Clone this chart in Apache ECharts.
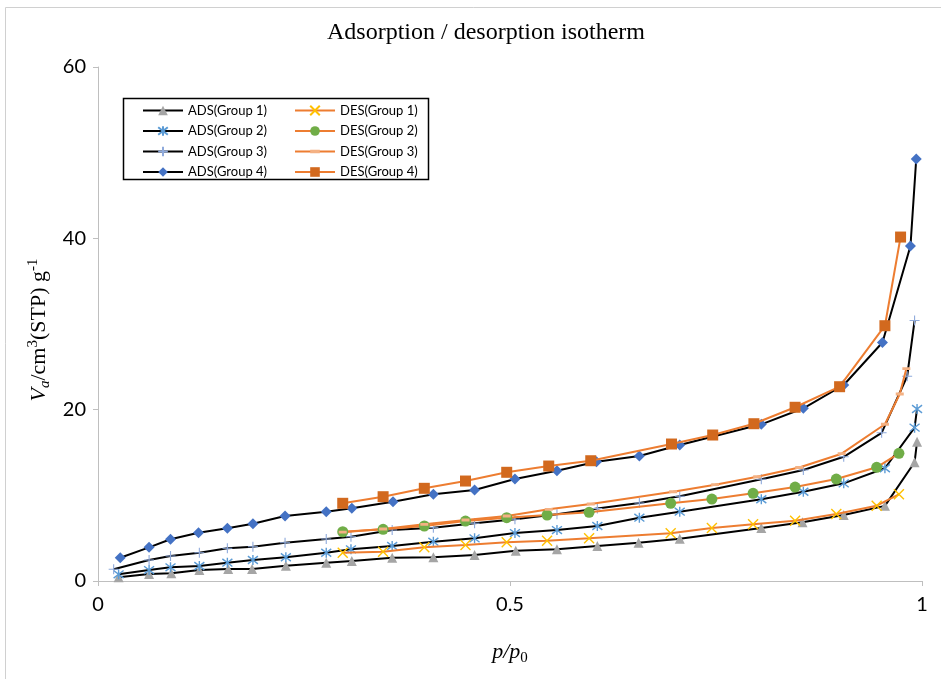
<!DOCTYPE html>
<html><head><meta charset="utf-8">
<script src="https://cdn.jsdelivr.net/npm/echarts@6/dist/echarts.min.js"></script>
<style>html,body{margin:0;padding:0;background:#fff}#c{width:941px;height:679px}</style>
</head><body><div id="c"></div>
<script>
const titleText = 'Adsorption / desorption isotherm';
const xTicks = [0, 0.5, 1];
const yTicks = [0, 20, 40, 60];

const ads1P = [0.025,0.062,0.089,0.123,0.158,0.187,0.228,0.277,0.308,0.357,0.407,0.457,0.507,0.557,0.606,0.656,0.706,0.805,0.855,0.905,0.955,0.991,0.994];
const ads1V = [0.43,0.82,0.9,1.28,1.4,1.4,1.79,2.14,2.33,2.72,2.77,3.03,3.54,3.7,4.09,4.47,4.94,6.2,6.85,7.7,8.77,13.86,16.26];
const ads2P = [0.025,0.062,0.088,0.123,0.157,0.188,0.228,0.277,0.307,0.357,0.407,0.457,0.506,0.557,0.606,0.657,0.706,0.805,0.856,0.905,0.955,0.991,0.994];
const ads2V = [0.78,1.28,1.6,1.75,2.14,2.45,2.77,3.3,3.7,4.09,4.59,4.98,5.6,5.95,6.42,7.39,8.09,9.54,10.42,11.4,13.16,17.9,20.08];
const ads3P = [0.019,0.062,0.088,0.123,0.157,0.188,0.227,0.277,0.307,0.357,0.407,0.457,0.506,0.557,0.606,0.657,0.706,0.805,0.856,0.905,0.951,0.982,0.991];
const ads3V = [1.37,2.45,2.92,3.3,3.82,4.0,4.47,4.9,5.17,5.95,6.22,6.74,7.2,7.8,8.46,9.1,9.9,11.87,12.96,14.5,17.3,23.9,30.4];
const ads4P = [0.027,0.062,0.088,0.122,0.157,0.188,0.227,0.277,0.308,0.358,0.407,0.457,0.506,0.557,0.605,0.657,0.706,0.805,0.856,0.905,0.952,0.986,0.993];
const ads4V = [2.72,3.93,4.87,5.64,6.15,6.69,7.59,8.09,8.49,9.26,10.12,10.62,11.91,12.88,13.93,14.59,15.87,18.29,20.16,22.88,27.84,39.1,49.26];

const des1P = [0.297,0.346,0.396,0.446,0.496,0.545,0.596,0.695,0.745,0.795,0.846,0.896,0.945,0.972];
const des1V = [3.3,3.42,3.93,4.2,4.52,4.7,4.98,5.57,6.18,6.62,7.04,7.82,8.79,10.12];
const des2P = [0.297,0.346,0.396,0.446,0.496,0.545,0.596,0.695,0.745,0.795,0.846,0.896,0.945,0.972];
const des2V = [5.75,6.03,6.42,7.0,7.39,7.7,8.02,9.07,9.57,10.24,10.97,11.9,13.27,14.9];
const des3P = [0.297,0.346,0.396,0.446,0.496,0.547,0.598,0.698,0.749,0.8,0.851,0.9025,0.955,0.973,0.981];
const des3V = [5.7,6.07,6.62,7.12,7.59,8.37,8.99,10.42,11.24,12.17,13.25,14.86,18.3,21.83,24.78];
const des4P = [0.297,0.346,0.396,0.446,0.496,0.547,0.598,0.696,0.746,0.796,0.846,0.900,0.955,0.974];
const des4V = [9.07,9.84,10.82,11.67,12.69,13.42,14.04,15.99,17.04,18.36,20.28,22.68,29.8,40.15];

const names = ['ADS(Group 1)','ADS(Group 2)','ADS(Group 3)','ADS(Group 4)','DES(Group 1)','DES(Group 2)','DES(Group 3)','DES(Group 4)'];

function pts(p, v){ return p.map((x,i)=>[x, v[i]]); }

const ASTER = 'path://M0,0L10,10M10,0L0,10M5,-1.5L5,11.5';
const PLUS = 'path://M5,0L5,10M0,5L10,5';
const CROSS = 'path://M0,0L10,10M10,0L0,10';
const DASH = 'path://M0,0L0.01,0M0,2.6L8,2.6L8,5.4L0,5.4ZM0,8L0.01,8';

function mk(name, data, symbol, size, color, stroke, lineColor, z){
  return {
    name, type:'line', data, symbol, symbolSize:size, z,
    lineStyle:{color:lineColor, width:2},
    itemStyle: stroke ? {color:color, borderColor:color, borderWidth:stroke} : {color:color, borderWidth:0},
  };
}

const series = [
  mk(names[0], pts(ads1P, ads1V), 'triangle', 10, '#A5A5A5', 0, '#000', 2),
  mk(names[1], pts(ads2P, ads2V), ASTER, 10, '#5B9BD5', 1.4, '#000', 2),
  mk(names[2], pts(ads3P, ads3V), PLUS, 10, '#8FAADC', 1.1, '#000', 2),
  mk(names[3], pts(ads4P, ads4V), 'diamond', 11, '#4472C4', 0, '#000', 2),
  mk(names[4], pts(des1P, des1V), CROSS, 10, '#FFC000', 1.4, '#ED7D31', 3),
  mk(names[5], pts(des2P, des2V), 'circle', 11, '#70AD47', 0, '#ED7D31', 3),
  mk(names[6], pts(des3P, des3V), DASH, 8, '#F4B183', 0, '#ED7D31', 3),
  mk(names[7], pts(des4P, des4V), 'rect', 11, '#D2691E', 0, '#ED7D31', 3),
];

const legendText = {fontFamily:'Lato', fontSize:13, color:'#000'};
const chart = echarts.init(document.getElementById('c'), null, {renderer:'canvas'});
chart.setOption({
  animation:false,
  backgroundColor:'#fff',
  title:{text:titleText, left:322, top:16, textStyle:{fontFamily:'Liberation Serif', fontSize:24, fontWeight:'normal', color:'#000'}},
  grid:{left:98, right:19, top:67, bottom:98, containLabel:false},
  legend:[
    {data:names.slice(0,4), orient:'vertical', left:142, top:104, itemWidth:40, itemHeight:12, itemGap:7.5, padding:0, textStyle:legendText, selectedMode:false},
    {data:names.slice(4), orient:'vertical', left:294, top:104, itemWidth:40, itemHeight:12, itemGap:7.5, padding:0, textStyle:legendText, selectedMode:false}
  ],
  xAxis:{type:'value', min:xTicks[0], max:xTicks[xTicks.length-1], interval:0.5,
    axisLine:{show:true, lineStyle:{color:'#BFBFBF', width:1}},
    axisTick:{show:true, length:5, lineStyle:{color:'#BFBFBF'}},
    axisLabel:{margin:14, fontFamily:'Lato', fontSize:20, color:'#000', formatter:v=>String(v)},
    splitLine:{show:false}},
  yAxis:{type:'value', min:yTicks[0], max:yTicks[yTicks.length-1], interval:20,
    axisLine:{show:true, lineStyle:{color:'#BFBFBF', width:1}},
    axisTick:{show:true, length:5, lineStyle:{color:'#BFBFBF'}},
    axisLabel:{margin:12, fontFamily:'Lato', fontSize:20, color:'#000'},
    splitLine:{show:false}},
  graphic:[
    {type:'rect', shape:{x:5.5, y:7.5, width:960, height:700}, style:{fill:null, stroke:'#D0D0D0', lineWidth:1}, silent:true, z:0},
    {type:'rect', shape:{x:123.5, y:98.5, width:305, height:81}, style:{fill:'#fff', stroke:'#000', lineWidth:1.5}, silent:true, z:-1},
    {type:'text', x:39, y:330, rotation:Math.PI/2, silent:true,
      style:{text:'{v|V}{a|a}{n|/cm}{s|3}{n|(STP) g}{s|-1}', align:'center', verticalAlign:'middle',
        rich:{
          v:{fontFamily:'Liberation Serif', fontStyle:'italic', fontSize:22, lineHeight:27, fill:'#000'},
          n:{fontFamily:'Liberation Serif', fontSize:22, lineHeight:27, fill:'#000'},
          a:{fontFamily:'Liberation Serif', fontStyle:'italic', fontSize:15, lineHeight:12, verticalAlign:'bottom', fill:'#000'},
          s:{fontFamily:'Liberation Serif', fontSize:15, lineHeight:14, verticalAlign:'top', fill:'#000'}
        }}},
    {type:'text', x:510, y:652, silent:true,
      style:{text:'{i|p/p}{o|0}', align:'center', verticalAlign:'middle',
        rich:{
          i:{fontFamily:'Liberation Serif', fontStyle:'italic', fontSize:22, lineHeight:27, fill:'#000'},
          o:{fontFamily:'Liberation Serif', fontSize:15, lineHeight:12, verticalAlign:'bottom', fill:'#000'}
        }}}
  ],
  series
});
</script></body></html>
